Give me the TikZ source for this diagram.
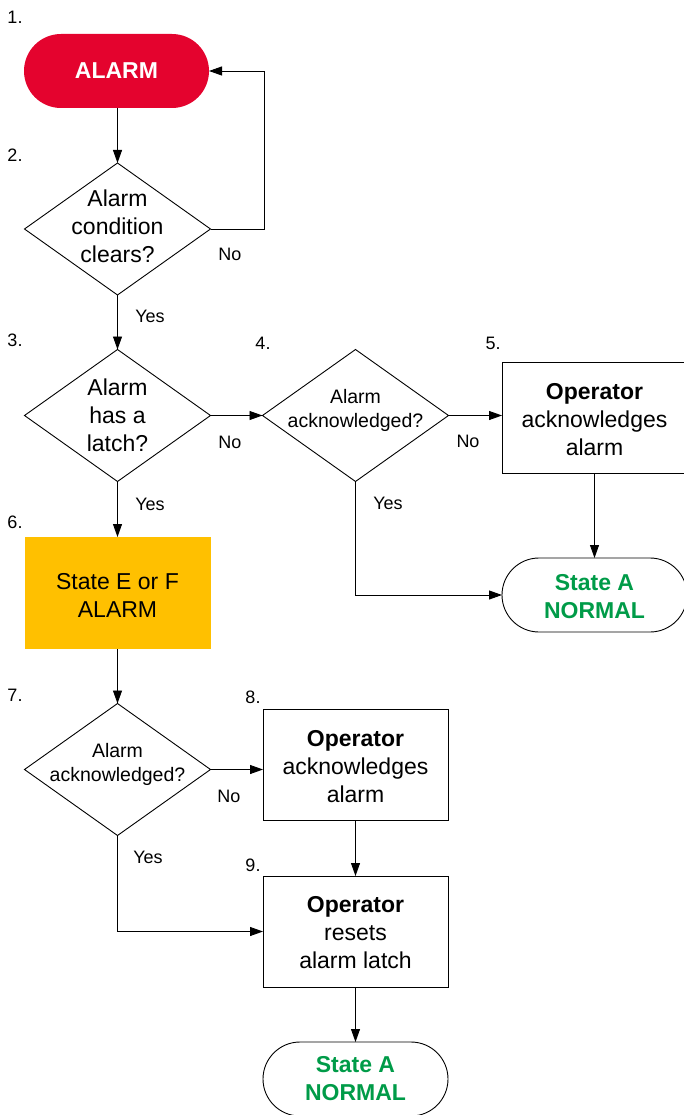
\documentclass[tikz,border=0pt]{standalone}
\usepackage{fontspec}
\setmainfont{Liberation Sans}
\usetikzlibrary{shapes.geometric,arrows.meta}
\definecolor{alarmred}{RGB}{228,3,46}
\definecolor{stateyel}{RGB}{255,192,0}
\definecolor{okgreen}{RGB}{0,155,72}
\newcommand{\mainsz}{\fontsize{23pt}{28pt}\selectfont}
\newcommand{\smallsz}{\fontsize{19.5pt}{24pt}\selectfont}
\newcommand{\labsz}{\fontsize{18pt}{22pt}\selectfont}
\begin{document}
\begin{tikzpicture}[x=1pt,y=-1pt,
  every node/.style={inner sep=0pt, outer sep=0pt},
  arr/.style={-{Triangle[length=13pt,width=9pt]}, line width=0.9pt, draw=black},
  term/.style={rectangle, rounded corners=37pt, minimum width=185pt, minimum height=74pt, align=center, font=\mainsz\bfseries},
  dia/.style={diamond, draw=black, line width=0.9pt, minimum width=186pt, minimum height=132pt},
  dtext/.style={align=center, font=\mainsz},
  stext/.style={align=center, font=\smallsz},
  opbox/.style={rectangle, draw=black, line width=0.9pt, minimum width=185pt, minimum height=111pt, align=center, font=\mainsz},
  lab/.style={font=\labsz}]
\useasboundingbox (0,0) rectangle (684,1115);

% nodes
\node[term, fill=alarmred, text=white] (alarm) at (116.5,71) {ALARM};
\node[dia] (d2) at (117.5,229) {};
\node[dtext] (t2) at (117.5,226) {Alarm\\condition\\clears?};
\node[dia] (d3) at (117.5,415.5) {};
\node[dtext] (t3) at (117.5,415.5) {Alarm\\has a\\latch?};
\node[dia] (d4) at (355.5,415.5) {};
\node[stext] (t4) at (355.5,410) {Alarm\\acknowledged?};
\node[opbox] (b5) at (594.5,417.5) {};
\node[dtext] (t5) at (594.5,420) {\textbf{Operator}\\acknowledges\\alarm};
\node[term, draw=black, line width=0.9pt] (s1) at (594.5,595) {};
\node[align=center, font=\mainsz\bfseries, text=okgreen] (u1) at (594.5,596.5) {State A\\NORMAL};
\node[rectangle, fill=stateyel, minimum width=186pt, minimum height=112pt] (b6) at (117.5,593) {};
\node[dtext] (t6) at (117.5,595) {State E or F\\ALARM};
\node[dia] (d7) at (117.5,769.5) {};
\node[stext] (t7) at (117.5,764) {Alarm\\acknowledged?};
\node[opbox] (b8) at (355.5,764.5) {};
\node[dtext] (t8) at (355.5,766.5) {\textbf{Operator}\\acknowledges\\alarm};
\node[opbox] (b9) at (355.5,931.5) {};
\node[dtext] (t9) at (355.5,932.5) {\textbf{Operator}\\resets\\alarm latch};
\node[term, draw=black, line width=0.9pt] (s2) at (355.5,1079) {};
\node[align=center, font=\mainsz\bfseries, text=okgreen] (u2) at (355.5,1078.5) {State A\\NORMAL};

% step numbers
\node[lab] (n1) at (15,17) {1.};
\node[lab] (n2) at (15,155) {2.};
\node[lab] (n3) at (15,340) {3.};
\node[lab] (n4) at (263,343) {4.};
\node[lab] (n5) at (493,343) {5.};
\node[lab] (n6) at (15,522) {6.};
\node[lab] (n7) at (15,695) {7.};
\node[lab] (n8) at (253,697) {8.};
\node[lab] (n9) at (253,865) {9.};

% branch labels
\node[lab] (l1) at (230,254) {No};
\node[lab] (l2) at (150,316) {Yes};
\node[lab] (l3) at (230,442) {No};
\node[lab] (l4) at (468,441) {No};
\node[lab] (l5) at (388,503) {Yes};
\node[lab] (l6) at (150,504) {Yes};
\node[lab] (l7) at (229,796) {No};
\node[lab] (l8) at (148,857) {Yes};

% connectors
\coordinate (loop) at (264,71);
\draw[arr] (alarm.south -| d2.north) -- (d2.north);
\draw[arr] (d2.east) -| (loop) -- (alarm.east);
\draw[arr] (d2.south) -- (d3.north);
\draw[arr] (d3.east) -- (d4.west);
\draw[arr] (d4.east) -- (d4.east -| b5.west);
\draw[arr] (b5.south) -- (s1.north);
\draw[arr] (d4.south) |- (s1.west);
\draw[arr] (d3.south) -- (b6.north);
\draw[arr] (b6.south) -- (d7.north);
\draw[arr] (d7.east) -- (d7.east -| b8.west);
\draw[arr] (b8.south) -- (b9.north);
\draw[arr] (d7.south) |- (b9.west);
\draw[arr] (b9.south) -- (s2.north);
\end{tikzpicture}
\end{document}
